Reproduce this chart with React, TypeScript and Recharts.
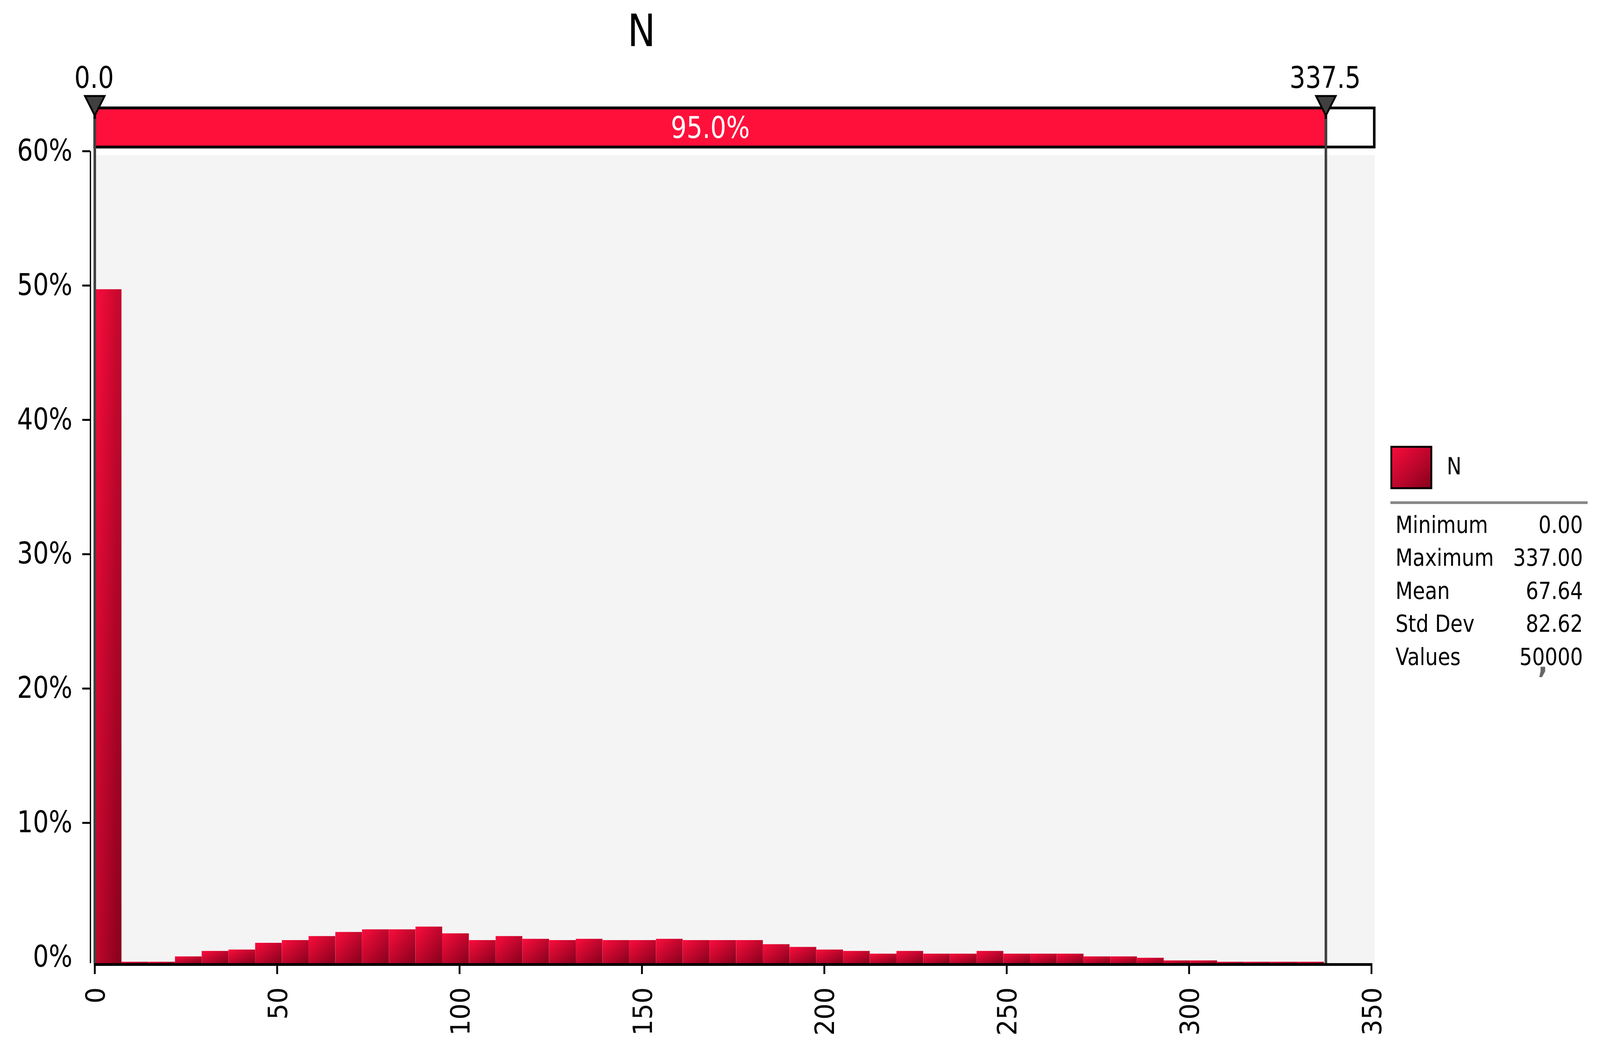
import { ComposedChart, Bar, XAxis, YAxis, ReferenceArea, ReferenceLine, ReferenceDot } from "recharts";

const FONT = '"DejaVu Sans Condensed", "DejaVu Sans", sans-serif';

// the browser caps the window at 4096 wide, so the 4397 layout is squeezed to whatever width we really get
const FIT_X = Math.min(1, window.innerWidth / 4397);

const binCenters = [
  3.66, 10.99, 18.32, 25.64, 32.97, 40.29, 47.62, 54.95, 62.27, 69.6, 76.92, 84.25, 91.58, 98.9, 106.23, 113.55,
  120.88, 128.21, 135.53, 142.86, 150.18, 157.51, 164.84, 172.16, 179.49, 186.81, 194.14, 201.47, 208.79, 216.12,
  223.44, 230.77, 238.1, 245.42, 252.75, 260.07, 267.4, 274.73, 282.05, 289.38, 296.7, 304.03, 311.36, 318.68,
  326.01, 333.33,
];
const binPercents = [
  49.8, 0.1, 0.1, 0.5, 0.9, 1.0, 1.5, 1.7, 2.0, 2.3, 2.5, 2.5, 2.7, 2.2, 1.7, 2.0, 1.8, 1.7, 1.8, 1.7, 1.7, 1.8, 1.7,
  1.7, 1.7, 1.4, 1.2, 1.0, 0.9, 0.7, 0.9, 0.7, 0.7, 0.9, 0.7, 0.7, 0.7, 0.5, 0.5, 0.4, 0.2, 0.2, 0.1, 0.1, 0.1, 0.1,
];
const xTicks = [0, 50, 100, 150, 200, 250, 300, 350];
const yTicks = [0, 10, 20, 30, 40, 50, 60];
const markers = [
  { value: 0, label: "0.0" },
  { value: 337.5, label: "337.5" },
];
const statLabels = ["Minimum", "Maximum", "Mean", "Std Dev", "Values"];
const statValues = ["0.00", "337.00", "67.64", "82.62", "50000"];

const data = binCenters.map((bin, i) => ({ bin, pct: binPercents[i] }));

function YTick({ y, payload }: any) {
  return (
    <g>
      {payload.value !== 0 && <line x1={226} x2={248} y1={y} y2={y} stroke="#000" strokeWidth={5} />}
      <text x={199} y={y + 24} textAnchor="end" fontFamily={FONT} fontSize={76} fill="#000">
        {payload.value}%
      </text>
    </g>
  );
}

function XTick({ x, payload }: any) {
  return (
    <text
      transform={`translate(${x + 27},2527) rotate(-90)`}
      textAnchor="end"
      fontFamily={FONT}
      fontSize={72}
      fill="#000"
    >
      {payload.value}
    </text>
  );
}

function Marker({ cx, cy, label }: any) {
  return (
    <g>
      <polygon
        points={`${cx - 27},${cy - 56} ${cx + 27},${cy - 56} ${cx},${cy - 6}`}
        fill="#404040"
        stroke="#000"
        strokeWidth={5}
      />
      <text x={cx - 2} y={cy - 77} textAnchor="middle" fontFamily={FONT} fontSize={76} fill="#000">
        {label}
      </text>
    </g>
  );
}

export default function App() {
  return (
    <div style={{ position: "fixed", left: 0, top: 0, right: 0, bottom: 0, overflow: "hidden", background: "#fff" }}>
      <div
        style={{
          position: "absolute",
          left: 0,
          top: 0,
          width: 4397,
          height: 2695,
          transform: `scaleX(${FIT_X})`,
          transformOrigin: "0 0",
        }}
      >
        <ComposedChart
          width={4397}
          height={2695}
          data={data}
          margin={{ top: 387, right: 628, bottom: 0, left: 0 }}
        >
          <defs>
            <linearGradient id="barGrad" x1="0" y1="0" x2="1" y2="1">
              <stop offset="0%" stopColor="#fb0d3d" />
              <stop offset="100%" stopColor="#86001c" />
            </linearGradient>
          </defs>
          <XAxis
            type="number"
            dataKey="bin"
            domain={[0, 350]}
            ticks={xTicks}
            allowDataOverflow
            padding={{ left: 12, right: 0 }}
            height={230}
            axisLine={false}
            tickLine={{ stroke: "#000", strokeWidth: 5 }}
            tickSize={28}
            tick={<XTick />}
            interval={0}
          />
          <YAxis
            yAxisId="pct"
            type="number"
            domain={[-0.44, 60]}
            ticks={yTicks}
            allowDataOverflow
            width={248.5}
            axisLine={{ stroke: "#000", strokeWidth: 3.5 }}
            tickLine={false}
            tickSize={0}
            tick={<YTick />}
            interval={0}
          />
          <YAxis yAxisId="bars" type="number" domain={[0, 60]} allowDataOverflow width={0} hide />
          <ReferenceArea
            yAxisId="bars"
            x1={0.35}
            x2={350.9}
            y1={0}
            y2={59.72}
            fill="#f4f4f4"
            fillOpacity={1}
            stroke="none"
            ifOverflow="visible"
          />
          <Bar yAxisId="bars" dataKey="pct" barSize={73.3} fill="url(#barGrad)" isAnimationActive={false} />
          <ReferenceLine
            yAxisId="bars"
            segment={[
              { x: -0.25, y: -0.1 },
              { x: 350, y: -0.1 },
            ]}
            stroke="#000"
            strokeWidth={7}
            ifOverflow="visible"
          />
          <ReferenceArea
            yAxisId="bars"
            x1={0}
            x2={350.76}
            y1={60.31}
            y2={63.2}
            fill="#fff"
            fillOpacity={1}
            stroke="#000"
            strokeWidth={7}
            ifOverflow="visible"
          />
          <ReferenceArea
            yAxisId="bars"
            x1={0}
            x2={337.5}
            y1={60.31}
            y2={63.2}
            fill="#ff103b"
            fillOpacity={1}
            stroke="#000"
            strokeWidth={7}
            ifOverflow="visible"
            label={{ value: "95.0%", position: "center", fill: "#fff", fontSize: 76, fontFamily: FONT }}
          />
          {markers.map((m) => (
            <ReferenceLine
              key={`line-${m.value}`}
              yAxisId="bars"
              segment={[
                { x: m.value, y: 0 },
                { x: m.value, y: 62.4 },
              ]}
              stroke="#404040"
              strokeWidth={7}
              ifOverflow="visible"
            />
          ))}
          {markers.map((m) => (
            <ReferenceDot
              key={`dot-${m.value}`}
              yAxisId="bars"
              x={m.value}
              y={62.46}
              ifOverflow="visible"
              shape={(props: any) => <Marker {...props} label={m.label} />}
            />
          ))}
        </ComposedChart>

        <svg width={4397} height={2695} style={{ position: "absolute", left: 0, top: 0, pointerEvents: "none" }}>
          <defs>
            <linearGradient id="swatchGrad" x1="0" y1="0" x2="1" y2="1">
              <stop offset="0%" stopColor="#fb0d3d" />
              <stop offset="100%" stopColor="#86001c" />
            </linearGradient>
          </defs>
          <text x={1763} y={118} textAnchor="middle" fontFamily={FONT} fontSize={114} fill="#000">
            N
          </text>
          <rect x={3823.5} y={1143.5} width={110} height={106} fill="url(#swatchGrad)" stroke="#000" strokeWidth={5} />
          <text x={3976} y={1214} fontFamily={FONT} fontSize={60} fill="#000">
            N
          </text>
          <line x1={3821} x2={4363} y1={1286.5} y2={1286.5} stroke="#888" strokeWidth={7} />
          {statLabels.map((label, i) => (
            <text key={label} x={3835} y={1364 + i * 84.5} fontFamily={FONT} fontSize={61} fill="#000">
              {label}
            </text>
          ))}
          {statValues.map((value, i) => (
            <text key={value} x={4350} y={1364 + i * 84.5} textAnchor="end" fontFamily={FONT} fontSize={61} fill="#000">
              {value}
            </text>
          ))}
          <text x={4240} y={1722} textAnchor="middle" fontFamily={FONT} fontSize={80} fontWeight="bold" fill="#666">
            ,
          </text>
        </svg>
      </div>
    </div>
  );
}
